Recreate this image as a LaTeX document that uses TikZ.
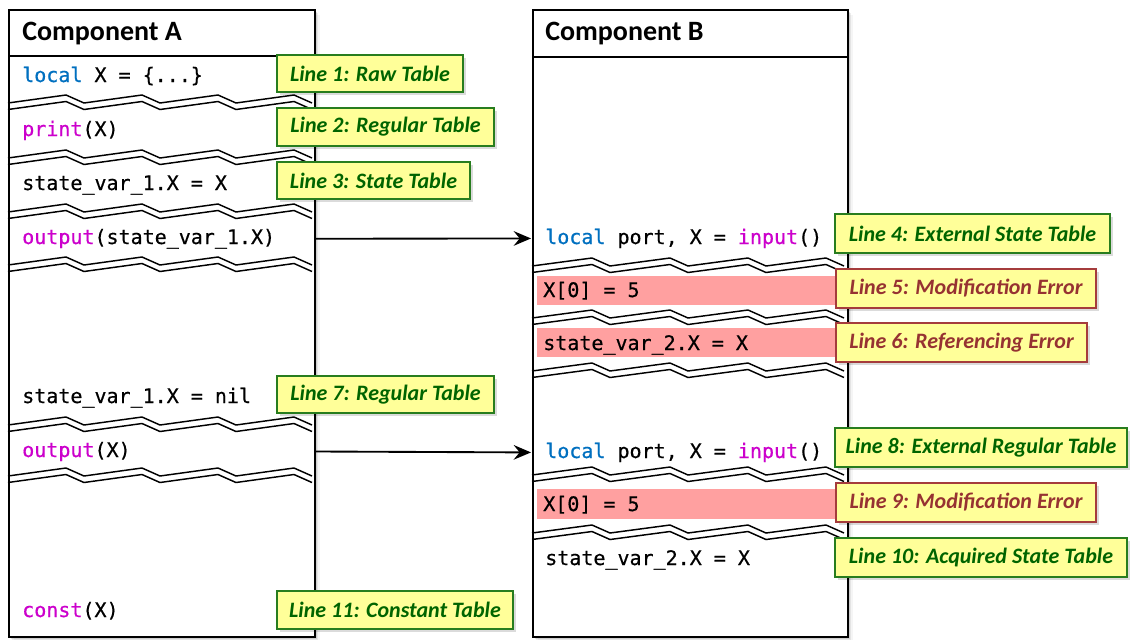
\documentclass[tikz,border=0pt]{standalone}
\usepackage{fontspec}
\setmainfont{Carlito}
\newfontfamily\codefont[FakeBold=0.6]{DejaVu Sans Mono}
\usetikzlibrary{arrows.meta}

\definecolor{kwblue}{RGB}{0,112,192}
\definecolor{kwmag}{RGB}{204,0,204}
\definecolor{notefill}{RGB}{255,255,153}
\definecolor{okgreen}{RGB}{0,100,0}
\definecolor{okedge}{RGB}{40,125,30}
\definecolor{errred}{RGB}{150,50,50}
\definecolor{erredge}{RGB}{165,60,60}
\definecolor{errbar}{RGB}{255,160,160}

\newcommand{\kwb}[1]{\textcolor{kwblue}{#1}}
\newcommand{\kwm}[1]{\textcolor{kwmag}{#1}}

% one zigzag line: start x, trough y, period, rise length
\newcommand{\zigpath}[4]{(#1,#2) -- ({#1+#4},#2-8) -- ({#1+#3},#2) -- ({#1+#3+#4},#2-8) -- ({#1+2*#3},#2) -- ({#1+2*#3+#4},#2-8) -- ({#1+3*#3},#2) -- ({#1+3*#3+#4},#2-8) -- ({#1+4*#3},#2)}
% a "skipped code" break: two parallel zigzags with white between
\newcommand{\codebreak}[4]{%
  \draw[white, line width=5pt] \zigpath{#1}{#2+3.25}{#3}{#4};
  \draw[breakline] \zigpath{#1}{#2}{#3}{#4};
  \draw[breakline] \zigpath{#1}{#2+6.5}{#3}{#4};}
% annotation box: name, x1, y1, x2, y2, style, text
\newcommand{\mklabel}[7]{%
  \fill[black, opacity=0.14] (#2+3,#3+3) rectangle (#4+3,#5+3);
  \node[#6, minimum width={(#4-#2)*0.75pt}, minimum height={(#5-#3)*0.75pt}] (#1) at ({(#2+#4)/2},{(#3+#5)/2}) {#7};}

\begin{document}
\begin{tikzpicture}[x=0.75pt, y=-0.75pt,
  panel/.style={fill=white, inner sep=0pt, outer sep=0pt},
  frame/.style={draw=black, line width=1.5pt},
  header/.style={anchor=west, font=\fontsize{21}{25}\selectfont\bfseries, inner sep=0pt},
  code/.style={anchor=base west, font=\codefont\fontsize{15}{18}\selectfont, inner sep=0pt},
  note/.style={draw=okedge, fill=notefill, line width=1.5pt, text=okgreen,
    font=\fontsize{16.5}{19}\selectfont\bfseries\itshape, inner sep=0pt, outer sep=0pt},
  errnote/.style={note, draw=erredge, text=errred},
  arr/.style={-{Stealth[length=13pt, width=11pt, inset=4.5pt]}, line width=1.4pt, shorten >=1.5pt},
  breakline/.style={line width=1.1pt, line join=miter},
]
\useasboundingbox (0,0) rectangle (1130,639);

% soft shadows of the two components
\foreach \s/\o in {1.5/0.10, 3/0.07, 4.5/0.04} {
  \fill[black, opacity=\o] (9+\s,10+\s) rectangle (315+\s,637+\s);
  \fill[black, opacity=\o] (533+\s,10+\s) rectangle (848+\s,637+\s);
}

% component panels
\node[panel, minimum width={306*0.75pt}, minimum height={627*0.75pt}] (boxA) at (162,323.5) {};
\node[panel, minimum width={315*0.75pt}, minimum height={627*0.75pt}] (boxB) at (690.5,323.5) {};

% headers
\node[header] (titleA) at (22,34) {Component A};
\node[header] (titleB) at (545,34) {Component B};

% error highlights in component B
\fill[errbar] (537,276) rectangle (845,305);
\fill[errbar] (537,328) rectangle (845,357);
\fill[errbar] (537,489) rectangle (845,519);

% code of component A
\node[code] (a1) at (22,82) {\kwb{local} X = \{...\}};
\node[code] (a2) at (22,136) {\kwm{print}(X)};
\node[code] (a3) at (22,190) {state\_var\_1.X = X};
\node[code] (a4) at (22,244) {\kwm{output}(state\_var\_1.X)};
\node[code] (a5) at (22,403) {state\_var\_1.X = nil};
\node[code] (a6) at (22,457) {\kwm{output}(X)};
\node[code] (a7) at (22,617) {\kwm{const}(X)};

% code of component B
\node[code] (b1) at (545,244) {\kwb{local} port, X = \kwm{input}()};
\node[code] (b2) at (543,297) {X[0] = 5};
\node[code] (b3) at (543,350) {state\_var\_2.X = X};
\node[code] (b4) at (545,458) {\kwb{local} port, X = \kwm{input}()};
\node[code] (b5) at (543,511) {X[0] = 5};
\node[code] (b6) at (545,565) {state\_var\_2.X = X};

% breaks between the shown lines
\codebreak{8}{103}{76}{58}
\codebreak{8}{158}{76}{58}
\codebreak{8}{212}{76}{58}
\codebreak{8}{265}{76}{58}
\codebreak{8}{425}{76}{58}
\codebreak{8}{476}{76}{58}
\codebreak{532}{266}{78}{60}
\codebreak{532}{318}{78}{60}
\codebreak{532}{371}{78}{60}
\codebreak{532}{475}{78}{60}
\codebreak{532}{533}{78}{60}

% panel outlines and header rules
\draw[frame] (boxA.north west) rectangle (boxA.south east);
\draw[frame] (boxB.north west) rectangle (boxB.south east);
\draw[frame] (9,56) -- (315,56);
\draw[frame] (533,57) -- (848,57);

% data passed from A to B
\draw[arr] (boxA.east |- a4.center) -- (boxB.west |- b1.center);
\draw[arr] (boxA.east |- a6.center) -- (boxB.west |- b4.center);

% annotations
\mklabel{n1}{277}{55}{463}{92}{note}{Line 1: Raw Table}
\mklabel{n2}{277}{108}{494}{146}{note}{Line 2: Regular Table}
\mklabel{n3}{277}{162}{470}{199}{note}{Line 3: State Table}
\mklabel{n4}{835}{214}{1110}{253}{note}{Line 4: External State Table}
\mklabel{n5}{836}{269}{1096}{308}{errnote}{Line 5: Modification Error}
\mklabel{n6}{836}{323}{1087}{362}{errnote}{Line 6: Referencing Error}
\mklabel{n7}{277}{376}{494}{413}{note}{Line 7: Regular Table}
\mklabel{n8}{835}{428}{1127}{467}{note}{Line 8: External Regular Table}
\mklabel{n9}{836}{483}{1096}{522}{errnote}{Line 9: Modification Error}
\mklabel{n10}{835}{538}{1127}{577}{note}{Line 10: Acquired State Table}
\mklabel{n11}{277}{591}{513}{629}{note}{Line 11: Constant Table}
\end{tikzpicture}
\end{document}
